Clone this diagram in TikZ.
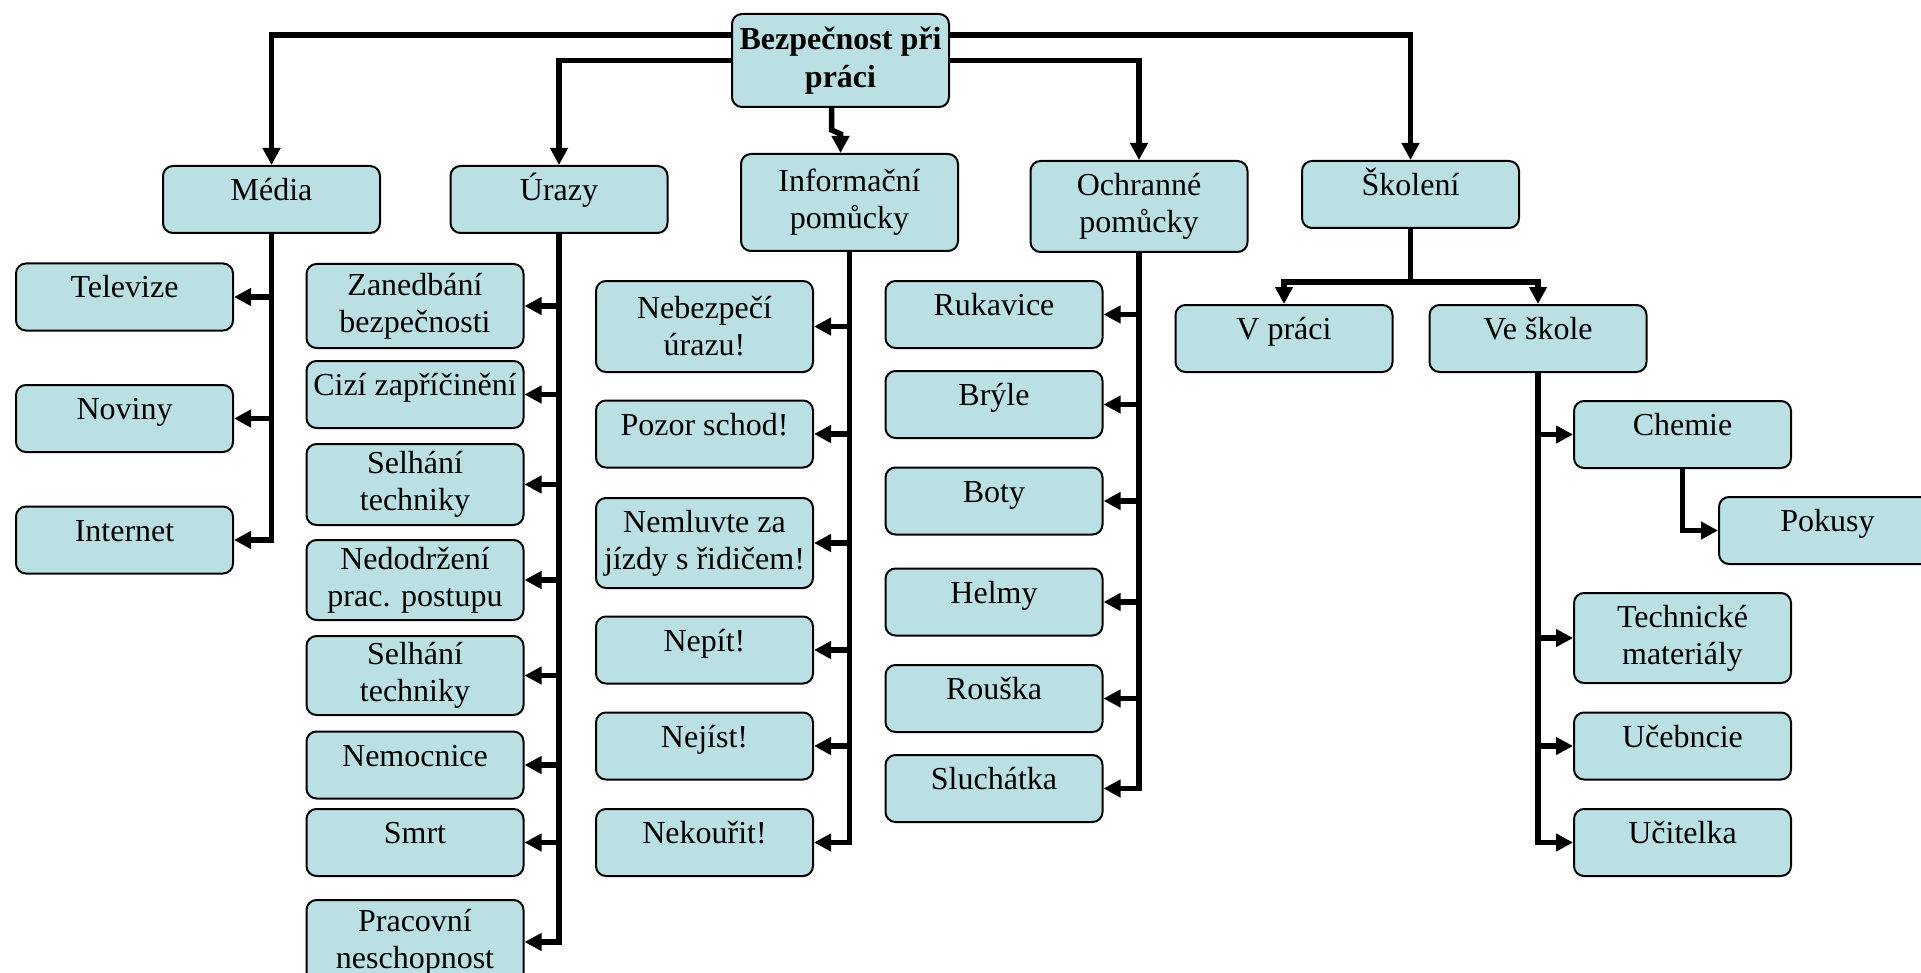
\documentclass[tikz,border=0pt]{standalone}
\usepackage{fontspec}
\setmainfont{Liberation Serif}
\usetikzlibrary{arrows.meta}
\definecolor{boxfill}{RGB}{186,224,228}

\begin{document}
\begin{tikzpicture}[x=0.5pt,y=-0.5pt,>={Triangle[length=8.5pt,width=8.5pt]},
    box/.style={draw,line width=1pt,rounded corners=5pt,fill=boxfill,minimum width=108.5pt,
        align=center,inner sep=2pt,font=\fontsize{16}{18.5}\selectfont},
    one/.style={box,minimum height=33.5pt,text height=11.5pt,text depth=10.5pt},
    two/.style={box,minimum height=#1},
    link/.style={->,line width=2.75pt}]
    \fill[white] (0,0) rectangle (1921,973);
    \useasboundingbox (0,0) rectangle (1921,973);

    \node[two=46.5pt,font=\bfseries\fontsize{16}{19}\selectfont] (root) at (840.5,60.5) {Bezpečnost při\\práci};

    \node[one] (media) at (271.5,199.5) {Média};
    \node[one] (urazy) at (559,199.5) {Úrazy};
    \node[two=48.5pt] (info) at (849.5,202.5) {Informační\\pomůcky};
    \node[two=45.5pt] (ochr) at (1139,206.5) {Ochranné\\pomůcky};
    \node[one] (skol) at (1410.5,194.5) {Školení};

    % media
    \node[one] (tv) at (124.5,297) {Televize};
    \node[one] (noviny) at (124.5,418.5) {Noviny};
    \node[one] (inet) at (124.5,540) {Internet};

    % urazy
    \node[two=42pt] (u1) at (415,306) {Zanedbání\\bezpečnosti};
    \node[one] (u2) at (415,394.5) {Cizí zapříčinění};
    \node[two=40.5pt] (u3) at (415,484.5) {Selhání\\techniky};
    \node[two=40pt] (u4) at (415,580) {Nedodržení\\prac. postupu};
    \node[two=39.5pt] (u5) at (415,675.5) {Selhání\\techniky};
    \node[one] (u6) at (415,765) {Nemocnice};
    \node[one] (u7) at (415,842.5) {Smrt};
    \node[two=42pt] (u8) at (415,942) {Pracovní\\neschopnost};

    % informacni pomucky
    \node[two=45.5pt] (i1) at (704.5,326.5) {Nebezpečí\\úrazu!};
    \node[one] (i2) at (704.5,434) {Pozor schod!};
    \node[two=45pt] (i3) at (704.5,543) {Nemluvte za\\jízdy s řidičem!};
    \node[one] (i4) at (704.5,650) {Nepít!};
    \node[one] (i5) at (704.5,746) {Nejíst!};
    \node[one] (i6) at (704.5,842.5) {Nekouřit!};

    % ochranne pomucky
    \node[one] (o1) at (994,314.5) {Rukavice};
    \node[one] (o2) at (994,404.5) {Brýle};
    \node[one] (o3) at (994,501) {Boty};
    \node[one] (o4) at (994,602) {Helmy};
    \node[one] (o5) at (994,698.5) {Rouška};
    \node[one] (o6) at (994,788.5) {Sluchátka};

    % skoleni
    \node[one] (vprace) at (1284,338.5) {V práci};
    \node[one] (vskole) at (1538,338.5) {Ve škole};
    \node[one] (chemie) at (1682.5,434.5) {Chemie};
    \node[one] (pokusy) at (1827.5,530.5) {Pokusy};
    \node[two=45pt] (techm) at (1682.5,638) {Technické\\materiály};
    \node[one] (ucebn) at (1682.5,746) {Učebncie};
    \node[one] (ucit) at (1682.5,842.5) {Učitelka};

    \draw[link] ([yshift=12.75pt]root.west) -| (media.north);
    \draw[link] (root.west) -| (urazy.north);
    \draw[link] ([xshift=-4.5pt]root.south) -- ++(0,22) -- ++(9,4) -- (root.south |- info.north);
    \draw[link] (root.east) -| (ochr.north);
    \draw[link] ([yshift=12.75pt]root.east) -| (skol.north);

    \foreach \n in {tv,noviny,inet} \draw[link] (media.south) |- (\n.east);
    \foreach \n in {u1,u2,u3,u4,u5,u6,u7,u8} \draw[link] (urazy.south) |- (\n.east);
    \foreach \n in {i1,i2,i3,i4,i5,i6} \draw[link] (info.south) |- (\n.east);
    \foreach \n in {o1,o2,o3,o4,o5,o6} \draw[link] (ochr.south) |- (\n.east);

    \draw[link] (skol.south) -- ++(0,53) -| (vprace.north);
    \draw[link] (skol.south) -- ++(0,53) -| (vskole.north);
    \foreach \n in {chemie,techm,ucebn,ucit} \draw[link] (vskole.south) |- (\n.west);
    \draw[link] (chemie.south) |- (pokusy.west);
\end{tikzpicture}
\end{document}
